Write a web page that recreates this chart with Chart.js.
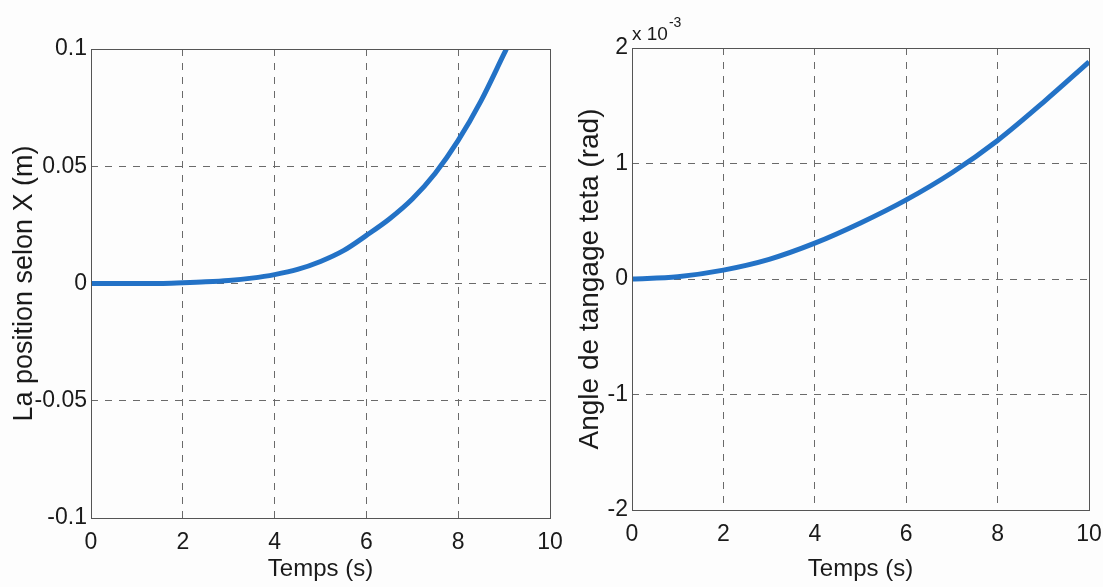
<!DOCTYPE html>
<html>
<head>
<meta charset="utf-8">
<script src="https://cdn.jsdelivr.net/npm/chart.js@4.4.1/dist/chart.umd.min.js"></script>
<style>
  html, body { margin: 0; padding: 0; background: #fdfdfd; }
  body { width: 1103px; height: 587px; position: relative; overflow: hidden; }
  .box { position: absolute; top: 0; height: 587px; }
  #leftBox { left: 0; width: 580px; }
  #rightBox { left: 556px; width: 547px; }
</style>
</head>
<body>
<div class="box" id="leftBox"><canvas id="c1"></canvas></div>
<div class="box" id="rightBox"><canvas id="c2"></canvas></div>
<script>
// ---- Data ----
const timeX = [0, 0.5, 1, 1.5, 2, 2.5, 3, 3.5, 4, 4.5, 5, 5.5, 6, 6.5, 7, 7.5, 8, 8.5, 9, 9.05];
const posX  = [0, 0, 0, 0, 0.0003, 0.0007, 0.0013, 0.0023, 0.0038, 0.006, 0.0094, 0.014, 0.0205, 0.0275, 0.036, 0.047, 0.061, 0.078, 0.098, 0.1];

const timeT = [0, 1, 2, 3, 4, 5, 6, 7, 8, 9, 10];
const theta = [0, 0.00002, 0.000077, 0.00017, 0.00031, 0.000485, 0.000685, 0.00092, 0.0012, 0.00153, 0.00188];

const xTicks = [0, 2, 4, 6, 8, 10];
const yTicksLeft = [-0.1, -0.05, 0, 0.05, 0.1];
const yTicksRight = [-2, -1, 0, 1, 2]; // x 10^-3

const labels = {
  xTitle: 'Temps (s)',
  yLeft: 'La position selon X (m)',
  yRight: 'Angle de tangage teta (rad)',
  exponentBase: 'x 10',
  exponentPow: '-3'
};

const FONT = '"Liberation Sans", Arial, Helvetica, sans-serif';
const LINE_COLOR = '#2372c6';
const GRID_COLOR = '#6a6a6a';
const TEXT_COLOR = '#1a1a1a';

const frame = {
  id: 'frame',
  afterDatasetsDraw(chart, args, opts) {
    const { ctx, chartArea: a } = chart;
    ctx.save();
    ctx.strokeStyle = '#555';
    ctx.lineWidth = 1;
    ctx.setLineDash([]);
    ctx.strokeRect(Math.round(a.left) + 0.5, Math.round(a.top) + 0.5, Math.round(a.right - a.left), Math.round(a.bottom - a.top));
    if (opts && opts.exponent) {
      ctx.fillStyle = TEXT_COLOR;
      ctx.textBaseline = 'alphabetic';
      ctx.textAlign = 'left';
      ctx.font = '19px ' + FONT;
      const x0 = a.left;
      const base = labels.exponentBase;
      ctx.fillText(base, x0, 40);
      const w = ctx.measureText(base).width;
      ctx.font = '14px ' + FONT;
      ctx.fillText(labels.exponentPow, x0 + w + 1, 27);
    }
    ctx.restore();
  }
};

function makeOptions(cfg) {
  return {
    responsive: true,
    maintainAspectRatio: false,
    animation: false,
    layout: { padding: { left: 0, right: cfg.padRight, top: cfg.padTop, bottom: 0 } },
    plugins: { legend: { display: false }, tooltip: { enabled: false }, frame: { exponent: cfg.exponent } },
    scales: {
      x: {
        type: 'linear', min: 0, max: 10,
        afterBuildTicks: (s) => { s.ticks = xTicks.map(v => ({ value: v })); },
        afterFit: (s) => { s.height = cfg.xHeight; s.paddingLeft = 0; s.paddingRight = 0; },
        grid: { color: GRID_COLOR, lineWidth: 1, drawTicks: false, tickBorderDash: [7, 7] },
        border: { display: false, dash: [7, 7] },
        ticks: { color: TEXT_COLOR, font: { family: FONT, size: 23 }, padding: 11, maxRotation: 0, autoSkip: false },
        title: { display: true, text: labels.xTitle, color: TEXT_COLOR, font: { family: FONT, size: 24 }, padding: { top: 0, bottom: 3 } }
      },
      y: {
        type: 'linear', min: cfg.yMin, max: cfg.yMax,
        afterBuildTicks: (s) => { s.ticks = cfg.yTicks.map(v => ({ value: v })); },
        afterFit: (s) => { s.width = cfg.yWidth; s.paddingTop = 0; s.paddingBottom = 0; },
        grid: { color: GRID_COLOR, lineWidth: 1, drawTicks: false, tickBorderDash: [7, 7] },
        border: { display: false, dash: [7, 7] },
        ticks: { color: TEXT_COLOR, font: { family: FONT, size: 23 }, padding: 4, autoSkip: false, callback: cfg.yFmt },
        title: { display: true, text: cfg.yTitle, color: TEXT_COLOR, font: { family: FONT, size: cfg.yTitleSize }, padding: { top: cfg.yTitlePad, bottom: 0 } }
      }
    }
  };
}

const leftOpts = makeOptions({
  padRight: 30, padTop: 49, xHeight: 69, yWidth: 91,
  yMin: -0.1, yMax: 0.1, yTicks: yTicksLeft,
  yFmt: (v) => { const r = Math.round(v * 1000) / 1000; return String(r); },
  yTitle: labels.yLeft, yTitleSize: 27, yTitlePad: 8, exponent: false
});
const rightOpts = makeOptions({
  padRight: 14, padTop: 48, xHeight: 77, yWidth: 76,
  yMin: -0.002, yMax: 0.002, yTicks: yTicksRight.map(v => v * 1e-3),
  yFmt: (v) => String(Math.round(v * 1000)),
  yTitle: labels.yRight, yTitleSize: 28, yTitlePad: 17, exponent: true
});

new Chart(document.getElementById('c1'), {
  type: 'line',
  data: { datasets: [{ data: timeX.map((t, i) => ({ x: t, y: posX[i] })), borderColor: LINE_COLOR, borderWidth: 5, pointRadius: 0, cubicInterpolationMode: 'monotone', fill: false }] },
  options: leftOpts,
  plugins: [frame]
});

new Chart(document.getElementById('c2'), {
  type: 'line',
  data: { datasets: [{ data: timeT.map((t, i) => ({ x: t, y: theta[i] })), borderColor: LINE_COLOR, borderWidth: 5, pointRadius: 0, cubicInterpolationMode: 'monotone', fill: false }] },
  options: rightOpts,
  plugins: [frame]
});
</script>
</body>
</html>
